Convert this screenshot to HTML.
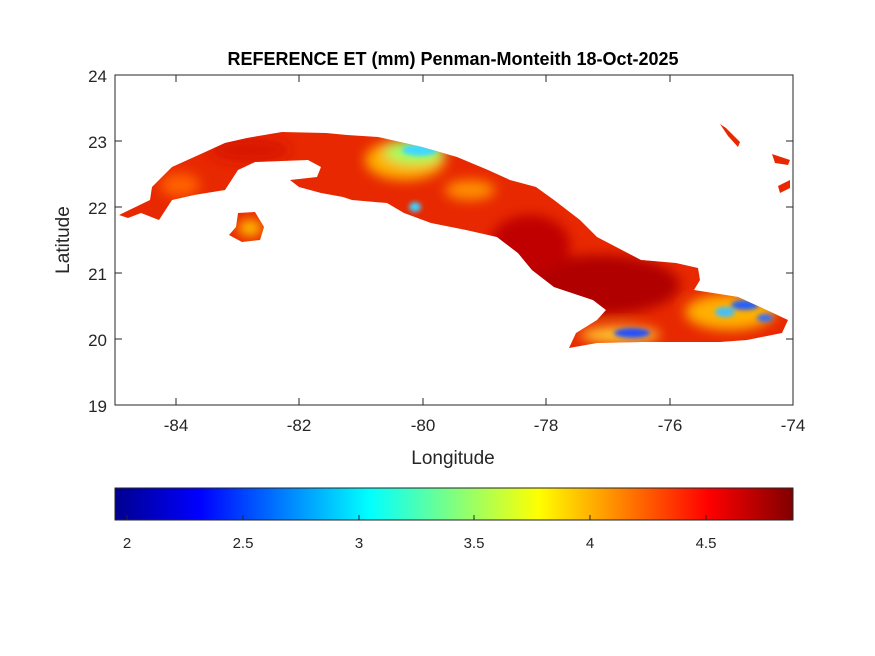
<!DOCTYPE html>
<html><head><meta charset="utf-8"><style>
body{margin:0;background:#fff;}
svg{display:block;font-family:"Liberation Sans",sans-serif;}
</style></head><body>
<svg width="875" height="656" viewBox="0 0 875 656" xmlns="http://www.w3.org/2000/svg">
<defs>
<linearGradient id="jet" x1="0" x2="1" y1="0" y2="0">
<stop offset="0" stop-color="#00008f"/>
<stop offset="0.125" stop-color="#0000ff"/>
<stop offset="0.375" stop-color="#00ffff"/>
<stop offset="0.625" stop-color="#ffff00"/>
<stop offset="0.875" stop-color="#ff0000"/>
<stop offset="1" stop-color="#800000"/>
</linearGradient>
<filter id="bl" x="-50%" y="-50%" width="200%" height="200%"><feGaussianBlur stdDeviation="6"/></filter>
<filter id="bl2" x="-50%" y="-50%" width="200%" height="200%"><feGaussianBlur stdDeviation="2.5"/></filter>
<clipPath id="cuba">
<path d="M119,215 L150,200 L152,187 L172,167 L203,153 L225,143 L247,138 L282,132 L326,133 L347,135 L378,137 L422,147 L457,157 L488,170 L510,180 L536,187 L554,200 L580,220 L597,237 L641,260 L676,263 L698,268 L700,280 L694,290 L738,297 L773,313 L788,320 L782,333 L747,340 L720,342 L685,342 L641,342 L597,343 L569,348 L576,333 L597,320 L606,310 L593,300 L554,287 L532,270 L518,253 L497,237 L466,230 L431,223 L404,213 L387,203 L352,200 L343,197 L321,193 L299,187 L290,180 L317,177 L321,167 L308,160 L255,162 L238,170 L225,190 L194,195 L172,200 L159,220 L141,213 L128,218 Z"/>
<path d="M238,213 L255,212 L264,227 L260,240 L242,242 L229,235 L236,227 Z"/>
<path d="M720,124 L726,128 L740,142 L738,147 L728,136 Z"/>
<path d="M772,154 L790,160 L788,165 L775,163 Z"/>
<path d="M778,186 L790,180 L790,188 L780,193 Z"/>
</clipPath>
</defs>
<text x="453" y="65" text-anchor="middle" font-size="18" font-weight="bold">REFERENCE ET (mm) Penman-Monteith 18-Oct-2025</text>
<g clip-path="url(#cuba)">
<rect x="100" y="100" width="700" height="260" fill="#e82800"/>
<g filter="url(#bl)">
<ellipse cx="600" cy="285" rx="80" ry="30" fill="#b00000"/>
<ellipse cx="530" cy="245" rx="40" ry="30" fill="#c00000"/>
<ellipse cx="250" cy="150" rx="40" ry="12" fill="#d81800"/>
<ellipse cx="405" cy="160" rx="40" ry="20" fill="#ffb000"/>
<ellipse cx="415" cy="152" rx="30" ry="12" fill="#a0ff60"/>
<ellipse cx="470" cy="190" rx="25" ry="10" fill="#ff9000"/>
<ellipse cx="180" cy="185" rx="20" ry="12" fill="#ff6000"/>
<ellipse cx="250" cy="228" rx="12" ry="8" fill="#ffd000"/>
<ellipse cx="730" cy="312" rx="45" ry="18" fill="#ffb000"/>
<ellipse cx="620" cy="335" rx="40" ry="8" fill="#ffd030"/>
</g>
<g filter="url(#bl2)">
<ellipse cx="745" cy="305" rx="14" ry="5" fill="#2060ff"/>
<ellipse cx="725" cy="312" rx="10" ry="5" fill="#40c0ff"/>
<ellipse cx="765" cy="318" rx="8" ry="4" fill="#3070ff"/>
<ellipse cx="632" cy="333" rx="18" ry="5" fill="#2050ff"/>
<ellipse cx="415" cy="207" rx="6" ry="5" fill="#40d0ff"/>
<ellipse cx="420" cy="150" rx="18" ry="6" fill="#40d8ff"/>
</g>
</g>
<rect x="115" y="75" width="678" height="330" fill="none" stroke="#262626" stroke-width="1"/>
<g stroke="#262626" stroke-width="1">
<line x1="176" y1="405" x2="176" y2="398"/><line x1="176" y1="75" x2="176" y2="82"/>
<line x1="299" y1="405" x2="299" y2="398"/><line x1="299" y1="75" x2="299" y2="82"/>
<line x1="423" y1="405" x2="423" y2="398"/><line x1="423" y1="75" x2="423" y2="82"/>
<line x1="546" y1="405" x2="546" y2="398"/><line x1="546" y1="75" x2="546" y2="82"/>
<line x1="670" y1="405" x2="670" y2="398"/><line x1="670" y1="75" x2="670" y2="82"/>
<line x1="115" y1="141" x2="122" y2="141"/><line x1="793" y1="141" x2="786" y2="141"/>
<line x1="115" y1="207" x2="122" y2="207"/><line x1="793" y1="207" x2="786" y2="207"/>
<line x1="115" y1="273" x2="122" y2="273"/><line x1="793" y1="273" x2="786" y2="273"/>
<line x1="115" y1="339" x2="122" y2="339"/><line x1="793" y1="339" x2="786" y2="339"/>
</g>
<g font-size="17" fill="#262626" text-anchor="middle">
<text x="176" y="431">-84</text><text x="299" y="431">-82</text><text x="423" y="431">-80</text>
<text x="546" y="431">-78</text><text x="670" y="431">-76</text><text x="793" y="431">-74</text>
<text x="453" y="464" font-size="19">Longitude</text>
</g>
<g font-size="17" fill="#262626" text-anchor="end">
<text x="107" y="82">24</text><text x="107" y="148">23</text><text x="107" y="214">22</text>
<text x="107" y="280">21</text><text x="107" y="346">20</text><text x="107" y="412">19</text>
</g>
<text transform="translate(69,240) rotate(-90)" text-anchor="middle" font-size="19" fill="#262626">Latitude</text>
<rect x="115" y="488" width="678" height="32" fill="url(#jet)" stroke="#262626" stroke-width="1"/>
<g stroke="#262626">
<line x1="127" y1="520" x2="127" y2="515"/><line x1="243" y1="520" x2="243" y2="515"/>
<line x1="359" y1="520" x2="359" y2="515"/><line x1="474" y1="520" x2="474" y2="515"/>
<line x1="590" y1="520" x2="590" y2="515"/><line x1="706" y1="520" x2="706" y2="515"/>
</g>
<g font-size="15" fill="#262626" text-anchor="middle">
<text x="127" y="548">2</text><text x="243" y="548">2.5</text><text x="359" y="548">3</text>
<text x="474" y="548">3.5</text><text x="590" y="548">4</text><text x="706" y="548">4.5</text>
</g>
</svg>
</body></html>
